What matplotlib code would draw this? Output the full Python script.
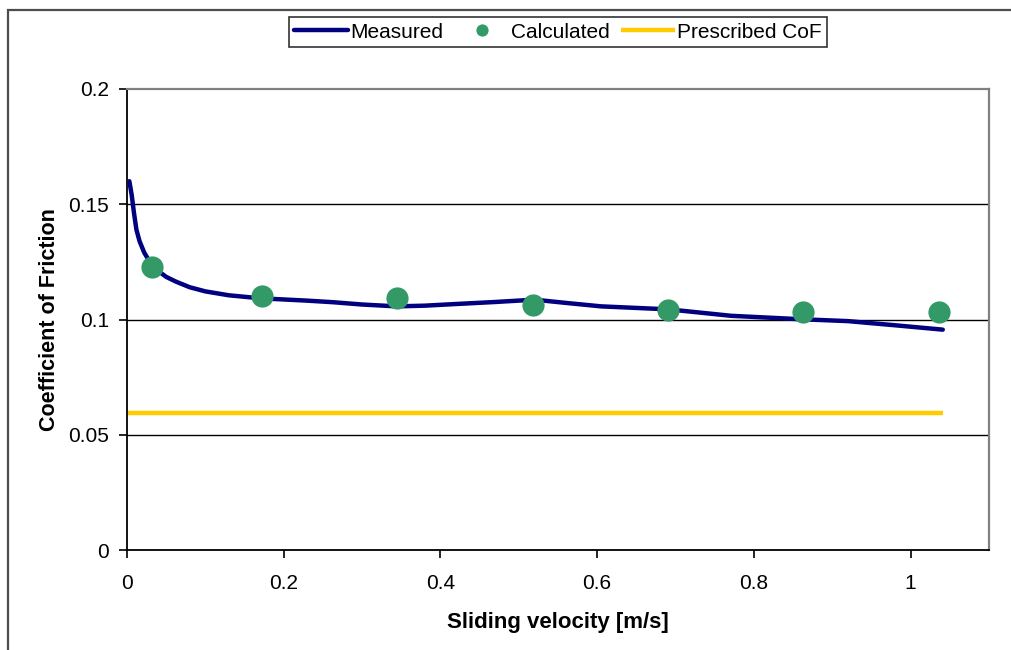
import matplotlib
matplotlib.use("Agg")
import matplotlib.pyplot as plt
from matplotlib.patches import Rectangle

plt.rcParams['font.family'] = ['Liberation Sans', 'DejaVu Sans']

# Measured curve
meas_x = [0.003, 0.006, 0.009, 0.012, 0.016, 0.022, 0.030, 0.040, 0.050, 0.062,
          0.080, 0.100, 0.130, 0.170, 0.229, 0.263, 0.300, 0.344, 0.380, 0.413,
          0.470, 0.520, 0.560, 0.605, 0.691, 0.771, 0.861, 0.920, 0.980, 1.041]
meas_y = [0.160, 0.154, 0.146, 0.139, 0.1340, 0.1290, 0.1245, 0.1210, 0.1185, 0.1165,
          0.1140, 0.1122, 0.1105, 0.1092, 0.1082, 0.1075, 0.1065, 0.1057, 0.1060, 0.1066,
          0.1076, 0.1086, 0.1072, 0.1057, 0.1044, 0.1016, 0.1001, 0.0993, 0.0975, 0.0956]

# Calculated points
calc_x = [0.032, 0.172, 0.345, 0.518, 0.691, 0.863, 1.036]
calc_y = [0.1226, 0.1103, 0.1095, 0.1061, 0.1040, 0.1032, 0.1032]

# Prescribed CoF
pres_x = [0.0, 1.041]
pres_y = [0.0595, 0.0595]

xticks = [0, 0.2, 0.4, 0.6, 0.8, 1.0]
xticklabels = ['0', '0.2', '0.4', '0.6', '0.8', '1']
yticks = [0, 0.05, 0.1, 0.15, 0.2]
yticklabels = ['0', '0.05', '0.1', '0.15', '0.2']

fig = plt.figure(figsize=(10.11, 6.5), dpi=100)
W, H = 1011, 650

# outer frame
fig.patches.append(Rectangle((8 / W, 0 - 0.01), 1.02, 1 - 10 / H + 0.01,
                             transform=fig.transFigure, fill=False,
                             edgecolor='#4d4d4d', linewidth=1.6))

ax = fig.add_axes([127 / W, 1 - 550 / H, (989 - 127) / W, (550 - 89) / H])
ax.set_xlim(0, 1.1)
ax.set_ylim(0, 0.2)

for y in [0.05, 0.1, 0.15]:
    ax.axhline(y, color='black', linewidth=1.0, zorder=1)

pres_line, = ax.plot(pres_x, pres_y, color='#FFCC00', linewidth=3.2,
                     solid_capstyle='butt', zorder=2)
l1, = ax.plot(meas_x, meas_y, color='#000080', linewidth=3.2, zorder=3,
              solid_joinstyle='round', solid_capstyle='round')
l2, = ax.plot(calc_x, calc_y, linestyle='none', marker='o', markersize=16,
              color='#339966', markeredgewidth=0, zorder=4)

ax.set_xticks(xticks)
ax.set_xticklabels(xticklabels)
ax.set_yticks(yticks)
ax.set_yticklabels(yticklabels)
ax.tick_params(direction='out', length=6, width=1.2, labelsize=15, colors='black')
ax.tick_params(axis='x', pad=11)
ax.tick_params(axis='y', pad=7)

ax.spines['left'].set_color('black')
ax.spines['bottom'].set_color('black')
ax.spines['left'].set_linewidth(1.3)
ax.spines['bottom'].set_linewidth(1.3)
ax.spines['top'].set_color('#808080')
ax.spines['right'].set_color('#808080')
ax.spines['top'].set_linewidth(1.6)
ax.spines['right'].set_linewidth(1.6)

ax.set_xlabel('Sliding velocity [m/s]', fontsize=16, fontweight='bold', labelpad=14)
ax.set_ylabel('Coefficient of Friction', fontsize=15.5, fontweight='bold', labelpad=6)

leg = fig.legend([l1, l2, pres_line], ['Measured', 'Calculated', 'Prescribed CoF'],
                 loc='center', bbox_to_anchor=(558 / W, 1 - 32 / H), ncol=3,
                 fontsize=15, frameon=True, fancybox=False, edgecolor='black',
                 handlelength=2.6, handletextpad=0.1, columnspacing=0.55,
                 borderpad=0.25, markerscale=0.55)
leg.get_frame().set_linewidth(1.2)

fig.savefig('out.png', dpi=100)
